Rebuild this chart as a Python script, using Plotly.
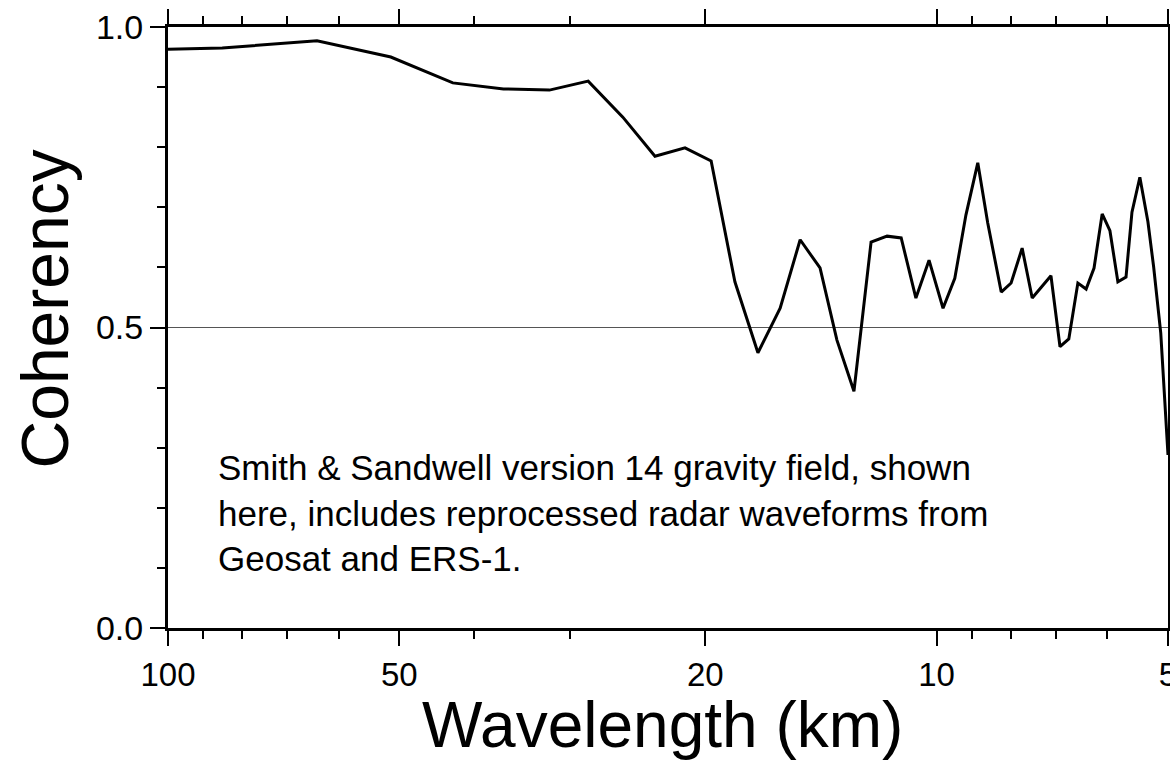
import plotly.graph_objects as go

# Wavelength (km) and coherency values
wavelength_km = [100.0, 85.0, 64.0, 51.3, 42.6, 36.6, 31.9, 28.4, 25.6, 23.25,
                 21.25, 19.65, 18.3, 17.08, 15.98, 15.05, 14.18, 13.48, 12.81, 12.17,
                 11.60, 11.12, 10.64, 10.23, 9.81, 9.47, 9.16, 8.84, 8.58, 8.24,
                 8.00, 7.74, 7.51, 7.10, 6.91, 6.73, 6.55, 6.39, 6.24, 6.09,
                 5.95, 5.81, 5.67, 5.57, 5.44, 5.31, 5.22, 5.11, 5.0]
coherency = [0.963, 0.965, 0.977, 0.950, 0.907, 0.897, 0.895, 0.910, 0.850, 0.785,
             0.799, 0.777, 0.576, 0.458, 0.532, 0.646, 0.599, 0.479, 0.394, 0.642,
             0.652, 0.649, 0.549, 0.612, 0.532, 0.582, 0.687, 0.774, 0.674, 0.559,
             0.574, 0.632, 0.549, 0.586, 0.468, 0.481, 0.574, 0.564, 0.599, 0.689,
             0.661, 0.576, 0.584, 0.692, 0.750, 0.676, 0.601, 0.491, 0.288]

x_major_ticks = [100, 50, 20, 10, 5]
x_major_labels = ["100", "50", "20", "10", "5"]
x_minor_ticks = [90, 80, 70, 60, 40, 30, 9, 8, 7, 6]
y_major_ticks = [0.0, 0.5, 1.0]
y_major_labels = ["0.0", "0.5", "1.0"]
y_minor_ticks = [0.1, 0.2, 0.3, 0.4, 0.6, 0.7, 0.8, 0.9]

note_text = ("Smith & Sandwell version 14 gravity field, shown<br>"
             "here, includes reprocessed radar waveforms from<br>"
             "Geosat and ERS-1.")

FONT = "Liberation Sans, Arial, Helvetica, sans-serif"

fig = go.Figure()
fig.add_trace(go.Scatter(
    x=wavelength_km, y=coherency, mode="lines",
    line=dict(color="black", width=3),
    hoverinfo="x+y", showlegend=False,
))

fig.add_shape(type="line", xref="paper", yref="y", x0=0, x1=1, y0=0.5, y1=0.5,
              line=dict(color="#555555", width=1), layer="below")

fig.update_xaxes(
    type="log", range=[2, 0.69897], automargin=False,
    ticklabeloverflow="allow",
    tickmode="array", tickvals=x_major_ticks, ticktext=x_major_labels,
    ticks="outside", ticklen=15, tickwidth=1.5, tickcolor="black",
    minor=dict(tickmode="array", tickvals=x_minor_ticks, ticks="outside",
               ticklen=8, tickwidth=1.5, tickcolor="black", showgrid=False),
    showline=True, linecolor="black", linewidth=3, mirror="ticks",
    showgrid=False, zeroline=False,
    tickfont=dict(family=FONT, size=33, color="black"),
)
fig.update_yaxes(
    range=[0, 1], automargin=False,
    tickmode="array", tickvals=y_major_ticks, ticktext=y_major_labels,
    ticks="outside", ticklen=15, tickwidth=1.5, tickcolor="black",
    minor=dict(tickmode="array", tickvals=y_minor_ticks, ticks="outside",
               ticklen=8, tickwidth=1.5, tickcolor="black", showgrid=False),
    showline=True, linecolor="black", linewidth=3, mirror="ticks",
    showgrid=False, zeroline=False,
    tickfont=dict(family=FONT, size=34, color="black"),
)

fig.add_annotation(text="Wavelength (km)", xref="paper", yref="paper",
                   x=0.494, y=0, yshift=-97, xanchor="center", yanchor="middle",
                   showarrow=False, font=dict(family=FONT, size=64, color="black"))
fig.add_annotation(text="Coherency", xref="paper", yref="paper",
                   x=0, xshift=-123, y=0.53, xanchor="center", yanchor="middle",
                   textangle=-90, showarrow=False,
                   font=dict(family=FONT, size=66, color="black"))
fig.add_annotation(text=note_text, xref="paper", yref="paper",
                   x=0.048, y=0.302, xanchor="left", yanchor="top", align="left",
                   showarrow=False, font=dict(family=FONT, size=35, color="black"))

fig.update_layout(
    width=1170, height=769,
    margin=dict(l=168, r=2, t=27, b=141),
    paper_bgcolor="white", plot_bgcolor="white",
)

fig.write_html("out.html")
